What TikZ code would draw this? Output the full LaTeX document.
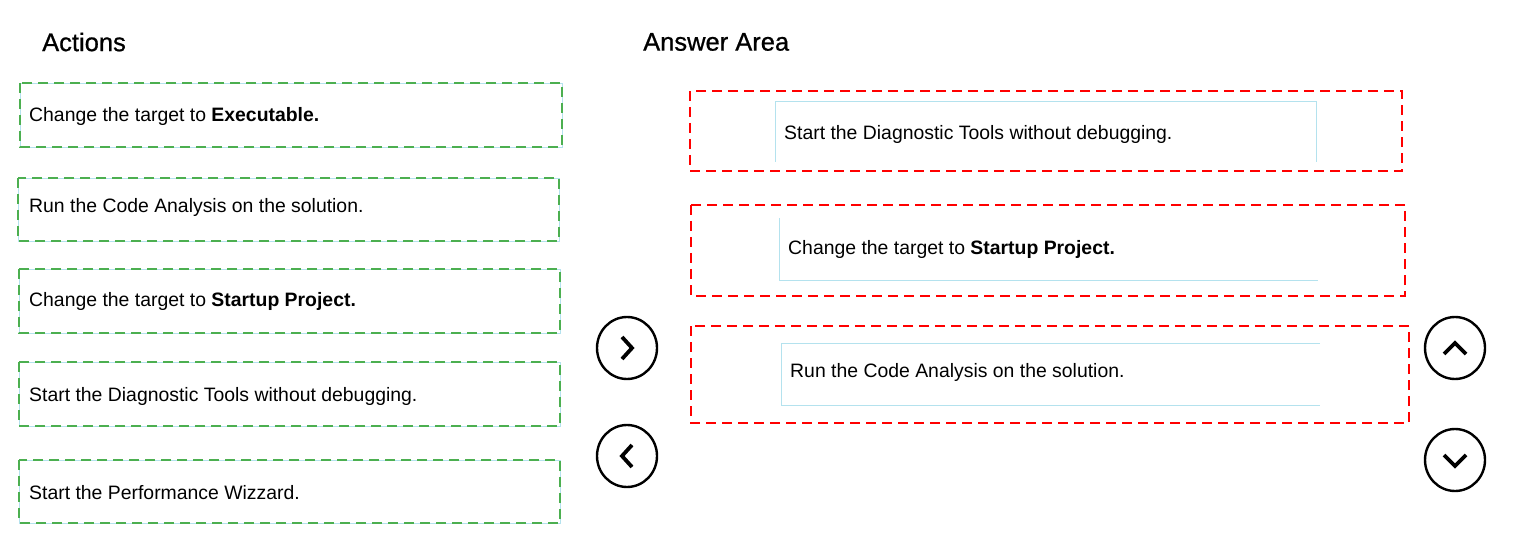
\documentclass[tikz,border=0pt]{standalone}
\usepackage{fontspec}
\setmainfont{Liberation Sans}
\newfontfamily\titlefont[FakeBold=0.8]{Liberation Sans}
\usetikzlibrary{shapes.geometric}
\definecolor{gbox}{RGB}{76,175,80}
\definecolor{rbox}{RGB}{255,0,0}
\definecolor{lblue}{RGB}{180,226,238}
\tikzset{
  actbox/.style={draw=gbox, line width=2.2pt, dash pattern=on 10pt off 6pt},
  ansbox/.style={draw=rbox, line width=2.2pt, dash pattern=on 10pt off 6pt},
  inner/.style={draw=lblue, line width=0.9pt},
  txt/.style={anchor=west, inner sep=0pt, font=\fontsize{19.4}{22}\selectfont},
  ttl/.style={anchor=west, inner sep=0pt, font=\titlefont\fontsize{25.5}{28}\selectfont},
  btn/.style={draw=black, ellipse, line width=2.4pt, minimum width=60pt, minimum height=62pt, inner sep=0pt},
  chev/.style={line width=3.8pt, line cap=butt, line join=miter}
}
\begin{document}
\begin{tikzpicture}[x=1pt,y=-1pt]
\useasboundingbox (0,0) rectangle (1517,537);
% titles
\node[ttl] (tact) at (42,42) {Actions};
\node[ttl] (tans) at (643,42) {Answer Area};
% action boxes (light blue underlay)
\foreach \a/\b/\c/\d in {20/83/562/147, 18/178/559/241, 19/269/560/333, 19/362/560/426, 19/460/560/523}{
  \draw[inner] (\a,\b) rectangle (\c,\d);
}
\draw[actbox] (20,83) rectangle (562,147);
\draw[actbox] (18,178) rectangle (559,241);
\draw[actbox] (19,269) rectangle (560,333);
\draw[actbox] (19,362) rectangle (560,426);
\draw[actbox] (19,460) rectangle (560,523);
\node[txt] (t1) at (29,116) {Change the target to \textbf{Executable.}};
\node[txt] (t2) at (29,207) {Run the Code Analysis on the solution.};
\node[txt] (t3) at (29,301) {Change the target to \textbf{Startup Project.}};
\node[txt] (t4) at (29,396) {Start the Diagnostic Tools without debugging.};
\node[txt] (t5) at (29,493) {Start the Performance Wizzard.};
% answer boxes
\draw[ansbox] (690,91) rectangle (1402,171);
\draw[ansbox] (691,205) rectangle (1405,296);
\draw[ansbox] (691,326) rectangle (1409,423);
\draw[inner] (775,162) -- (775,101) -- (1316,101) -- (1316,162);
\draw[inner] (779,218) -- (779,280) -- (1318,280);
\draw[inner] (1320,343) -- (781,343) -- (781,405) -- (1320,405);
\node[txt] (s1) at (784,134) {Start the Diagnostic Tools without debugging.};
\node[txt] (s2) at (788,249) {Change the target to \textbf{Startup Project.}};
\node[txt] (s3) at (790,372) {Run the Code Analysis on the solution.};
% buttons
\node[btn] (bright) at (627,348) {};
\node[btn] (bleft) at (627,456) {};
\node[btn] (bup) at (1455,348) {};
\node[btn] (bdown) at (1455,460) {};
\draw[chev] ([shift={(-5,-11)}]bright.center) -- ([shift={(5,0)}]bright.center) -- ([shift={(-5,11)}]bright.center);
\draw[chev] ([shift={(5,-11)}]bleft.center) -- ([shift={(-5,0)}]bleft.center) -- ([shift={(5,11)}]bleft.center);
\draw[chev] ([shift={(-11,6)}]bup.center) -- ([shift={(0,-5)}]bup.center) -- ([shift={(11,6)}]bup.center);
\draw[chev] ([shift={(-11,-5)}]bdown.center) -- ([shift={(0,6)}]bdown.center) -- ([shift={(11,-5)}]bdown.center);
\end{tikzpicture}
\end{document}
